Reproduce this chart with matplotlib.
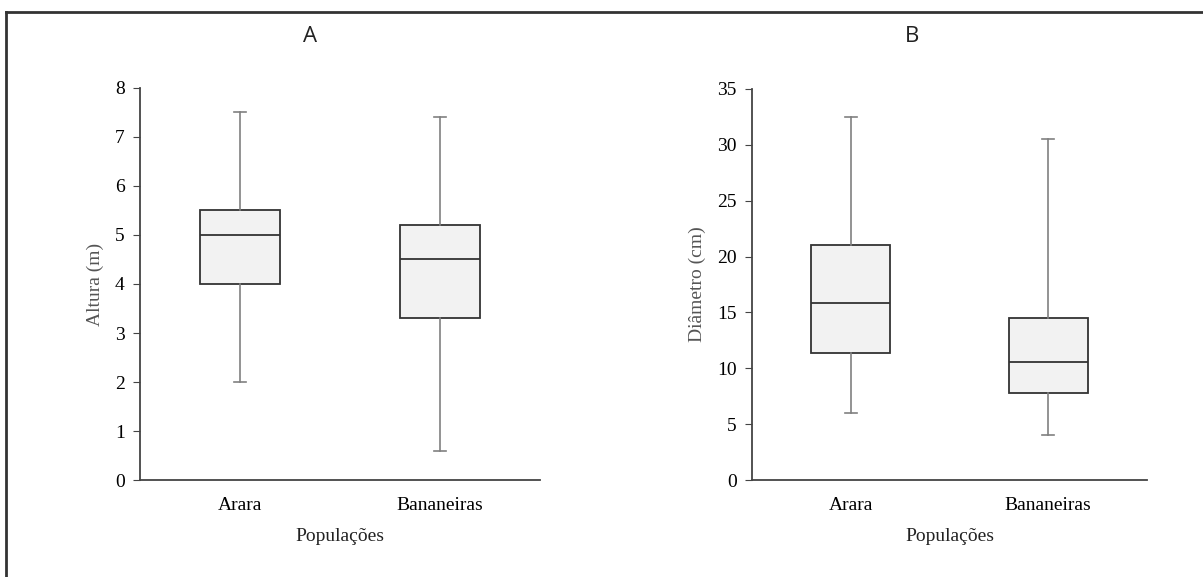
import matplotlib
matplotlib.use("Agg")
import matplotlib.pyplot as plt
from matplotlib.lines import Line2D

# box summaries
populations = ["Arara", "Bananeiras"]

altura_whislo = [2.0, 0.6]
altura_q1 = [4.0, 3.3]
altura_med = [5.0, 4.5]
altura_q3 = [5.5, 5.2]
altura_whishi = [7.5, 7.4]

diam_whislo = [6.0, 4.0]
diam_q1 = [11.4, 7.8]
diam_med = [15.8, 10.6]
diam_q3 = [21.0, 14.5]
diam_whishi = [32.5, 30.5]

plt.rcParams["font.family"] = ["Liberation Serif", "DejaVu Serif"]


def stats(lo, q1, med, q3, hi):
    out = []
    for i in range(len(populations)):
        out.append({"whislo": lo[i], "q1": q1[i], "med": med[i], "q3": q3[i],
                    "whishi": hi[i], "fliers": [], "label": populations[i]})
    return out


def draw(ax, st, ylim, ticks, ylabel):
    ax.bxp(st, positions=[1, 2], widths=0.4, patch_artist=True,
           boxprops=dict(facecolor="#f2f2f2", edgecolor="#333333", linewidth=1.3),
           medianprops=dict(color="#333333", linewidth=1.3),
           whiskerprops=dict(color="#808080", linewidth=1.2),
           capprops=dict(color="#808080", linewidth=1.2), capwidths=0.06)
    ax.set_xlim(0.5, 2.5)
    ax.set_ylim(*ylim)
    ax.set_yticks(ticks)
    ax.spines["top"].set_visible(False)
    ax.spines["right"].set_visible(False)
    for s in ("left", "bottom"):
        ax.spines[s].set_color("#444444")
        ax.spines[s].set_linewidth(1.3)
    ax.tick_params(axis="y", length=5, color="#444444", labelsize=14, pad=6)
    ax.tick_params(axis="x", length=0, labelsize=14, pad=12)
    ax.set_ylabel(ylabel, fontsize=14, color="#555555", labelpad=8)
    ax.set_xlabel("Populações", fontsize=14, color="#222222", labelpad=10)


fig = plt.figure(figsize=(12.03, 5.77), dpi=100)
ax1 = fig.add_axes([0.1164, 0.1681, 0.3325, 0.6794])
ax2 = fig.add_axes([0.6251, 0.1681, 0.3283, 0.6777])

draw(ax1, stats(altura_whislo, altura_q1, altura_med, altura_q3, altura_whishi),
     (0, 8), range(0, 9), "Altura (m)")
draw(ax2, stats(diam_whislo, diam_q1, diam_med, diam_q3, diam_whishi),
     (0, 35), range(0, 36, 5), "Diâmetro (cm)")

fig.text(310 / 1203, 1 - 37 / 577, "A", fontsize=16, family="Open Sans",
         ha="center", va="center", color="#222222")
fig.text(912 / 1203, 1 - 37 / 577, "B", fontsize=16, family="Open Sans",
         ha="center", va="center", color="#222222")

# outer frame (top and left edges)
fig.add_artist(Line2D([6 / 1203, 1], [1 - 12 / 577, 1 - 12 / 577],
                      transform=fig.transFigure, color="#333333", linewidth=2))
fig.add_artist(Line2D([6 / 1203, 6 / 1203], [0, 1 - 12 / 577],
                      transform=fig.transFigure, color="#333333", linewidth=2))

fig.savefig("out.png", dpi=100)
plt.close(fig)
